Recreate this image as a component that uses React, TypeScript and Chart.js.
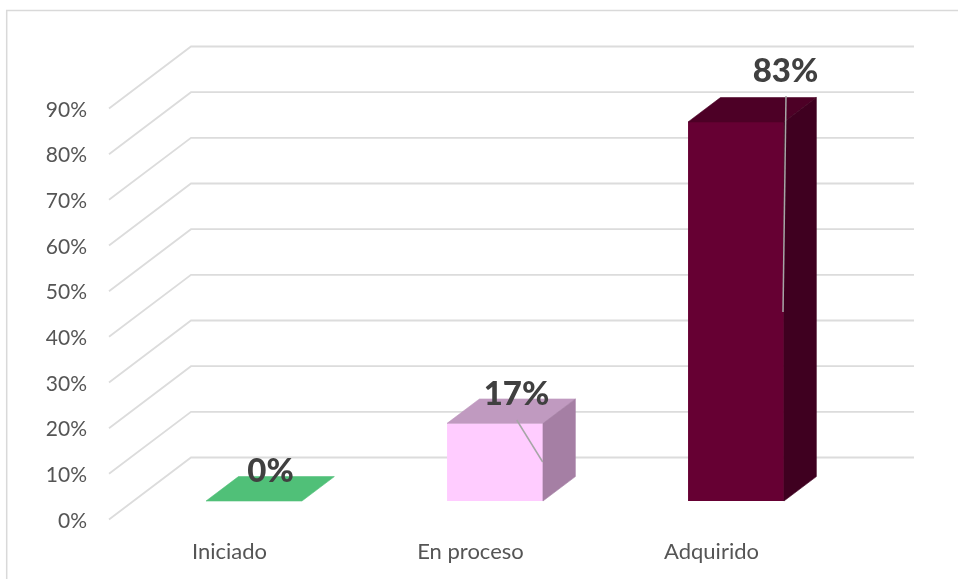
import React, { useEffect, useRef } from "react";
import { Chart, registerables } from "chart.js";

Chart.register(...registerables);

const categories = ["Iniciado", "En proceso", "Adquirido"];
const values = [0, 17, 83];
const labels = ["0%", "17%", "83%"];
const frontColors = ["#50C078", "#FFCCFF", "#660033"];
const topColors = ["#50C078", "#C09AC0", "#4D0026"];
const sideColors = ["#50C078", "#A57FA4", "#3F0020"];

const GRID = "#DCDCDC";
const WALL_DX = 82;
const WALL_DY = -62;
const BAR_SHIFT_X = 24.5;
const BAR_SHIFT_Y = -18.5;
const DEPTH_X = 32.4;
const DEPTH_Y = -24.4;

const labelCenters = [
  { x: 270.5, y: 471 },
  { x: 516.5, y: 394 },
  { x: 785.5, y: 71 },
];
const leaders = [
  null,
  { x1: 516.7, y1: 420, x2: 542.7, y2: 462 },
  { x1: 786, y1: 96, x2: 783, y2: 312 },
];

const threeD = {
  id: "threeD",
  beforeDraw(chart: any) {
    const { ctx, width, height } = chart;
    ctx.save();
    ctx.strokeStyle = "#D9D9D9";
    ctx.lineWidth = 1.5;
    ctx.beginPath();
    ctx.moveTo(6.7, height);
    ctx.lineTo(6.7, 10.5);
    ctx.lineTo(width, 10.5);
    ctx.stroke();
    ctx.restore();
  },
  beforeDatasetsDraw(chart: any) {
    const { ctx, scales, chartArea } = chart;
    ctx.save();
    ctx.strokeStyle = GRID;
    ctx.lineWidth = 1.8;
    ctx.lineJoin = "miter";
    scales.y.ticks.forEach((t: any) => {
      const y = scales.y.getPixelForValue(t.value);
      ctx.beginPath();
      ctx.moveTo(chartArea.left, y);
      ctx.lineTo(chartArea.left + WALL_DX, y + WALL_DY);
      ctx.lineTo(chartArea.right + WALL_DX, y + WALL_DY);
      ctx.stroke();
    });
    ctx.restore();
    ctx.save();
    ctx.translate(BAR_SHIFT_X, BAR_SHIFT_Y);
  },
  afterDatasetsDraw(chart: any) {
    const { ctx } = chart;
    const meta = chart.getDatasetMeta(0);
    ctx.lineWidth = 0.6;
    meta.data.forEach((bar: any, i: number) => {
      const p = bar.getProps(["x", "y", "base", "width"], true);
      const l = p.x - p.width / 2;
      const r = p.x + p.width / 2;
      ctx.fillStyle = topColors[i];
      ctx.strokeStyle = topColors[i];
      ctx.beginPath();
      ctx.moveTo(l, p.y);
      ctx.lineTo(l + DEPTH_X, p.y + DEPTH_Y);
      ctx.lineTo(r + DEPTH_X, p.y + DEPTH_Y);
      ctx.lineTo(r, p.y);
      ctx.closePath();
      ctx.fill();
      ctx.stroke();
      if (p.base - p.y > 0.5) {
        ctx.fillStyle = sideColors[i];
        ctx.strokeStyle = sideColors[i];
        ctx.beginPath();
        ctx.moveTo(r, p.y);
        ctx.lineTo(r + DEPTH_X, p.y + DEPTH_Y);
        ctx.lineTo(r + DEPTH_X, p.base + DEPTH_Y);
        ctx.lineTo(r, p.base);
        ctx.closePath();
        ctx.fill();
        ctx.stroke();
      }
    });
    ctx.restore();

    ctx.save();
    ctx.strokeStyle = "#A6A6A6";
    ctx.lineWidth = 1.5;
    leaders.forEach((s) => {
      if (!s) return;
      ctx.beginPath();
      ctx.moveTo(s.x1, s.y1);
      ctx.lineTo(s.x2, s.y2);
      ctx.stroke();
    });
    ctx.fillStyle = "#404040";
    ctx.font = "900 33px Lato";
    ctx.textAlign = "center";
    ctx.textBaseline = "middle";
    labels.forEach((t, i) => {
      ctx.fillText(t, labelCenters[i].x, labelCenters[i].y);
    });
    ctx.restore();
  },
};

export default function App() {
  const ref = useRef<HTMLCanvasElement | null>(null);
  useEffect(() => {
    const chart = new Chart(ref.current as HTMLCanvasElement, {
      type: "bar",
      data: {
        labels: categories,
        datasets: [
          {
            data: values,
            backgroundColor: frontColors,
            borderWidth: 0,
            barPercentage: 0.398,
            categoryPercentage: 1,
          },
        ],
      },
      options: {
        responsive: false,
        animation: false,
        layout: { padding: { left: 0, right: 126, top: 108.5, bottom: 0 } },
        plugins: { legend: { display: false }, tooltip: { enabled: false } },
        scales: {
          x: {
            grid: { display: false, drawTicks: false },
            border: { display: false },
            afterFit: (s: any) => {
              s.height = 59.5;
            },
            ticks: {
              padding: 19,
              color: "#555555",
              maxRotation: 0,
              font: { family: "Lato", size: 22 },
            },
          },
          y: {
            min: 0,
            max: 90,
            grid: { display: false, drawTicks: false },
            border: { display: false },
            afterFit: (s: any) => {
              s.width = 109;
            },
            ticks: {
              stepSize: 10,
              padding: 22,
              labelOffset: 1.5,
              color: "#555555",
              font: { family: "Lato", size: 21 },
              callback: (v: any) => `${v}%`,
            },
          },
        },
      },
      plugins: [threeD],
    } as any);
    return () => chart.destroy();
  }, []);
  return (
    <div style={{ position: "absolute", left: 0, top: 0, width: 958, height: 579, background: "#fff" }}>
      <canvas ref={ref} width={958} height={579} style={{ display: "block" }} />
    </div>
  );
}
